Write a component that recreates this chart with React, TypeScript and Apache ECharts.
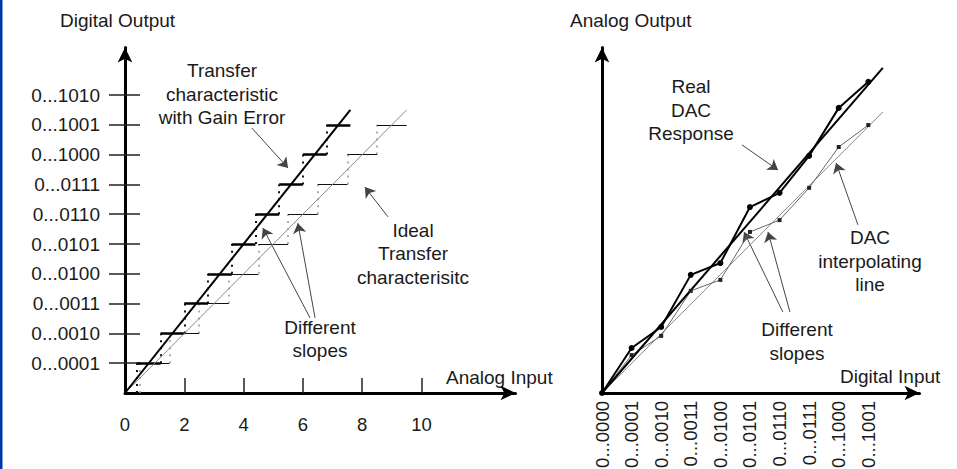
import React, { useEffect, useRef } from 'react';
import * as echarts from 'echarts';

const FONT = "'Liberation Sans', Arial, Helvetica, sans-serif";
const TXT = '#1a1a1a';

// ---------- Left chart (ADC) ----------
const leftCodeValues = [1, 2, 3, 4, 5, 6, 7, 8, 9, 10];
const leftCodeLabels = ['0...0001', '0...0010', '0...0011', '0...0100', '0...0101', '0...0110', '0...0111', '0...1000', '0...1001', '0...1010'];
const analogTickValues = [2, 4, 6, 8, 10];
const analogLabelValues = [0, 2, 4, 6, 8, 10];
// analog input values where the output code changes (code n holds between transitions n-1 and n)
const idealTransitions = [0.5, 1.5, 2.5, 3.5, 4.5, 5.5, 6.5, 7.5, 8.5, 9.5];
const gainTransitions = [0.4, 1.2, 2.0, 2.8, 3.6, 4.4, 5.2, 6.0, 6.8, 7.6];
const idealLine = [[0, 0], [9.5, 9.5]];
const gainLine = [[0, 0], [7.6, 9.5]];
const leftArrows = [
  [[4.28, 8.89], [5.5, 7.55]],
  [[8.87, 5.91], [8.09, 6.91]],
  [[6.24, 2.52], [4.65, 5.54]],
  [[6.41, 2.52], [5.83, 5.7]],
];

// ---------- Right chart (DAC) ----------
const digitalInputCodes = [0, 1, 2, 3, 4, 5, 6, 7, 8, 9];
const digitalInputLabels = ['0...0000', '0...0001', '0...0010', '0...0011', '0...0100', '0...0101', '0...0110', '0...0111', '0...1000', '0...1001'];
const realDacOutput = [0, 1.52, 2.23, 3.99, 4.39, 6.28, 6.76, 8.01, 9.63, 10.51];
const interpDacOutput = [0, 1.28, 1.93, 3.45, 3.82, 5.44, 5.84, 6.93, 8.31, 9.05];
const realLine = [[0, 0], [9.49, 10.98]];
const interpLine = [[0, 0], [9.49, 9.49]];
const rightArrows = [
  [[4.73, 8.38], [5.95, 7.53]],
  [[8.65, 5.68], [7.91, 7.77]],
  [[6.11, 2.74], [4.8, 5.44]],
  [[6.35, 2.74], [5.61, 5.44]],
];

function horizSteps(tr: number[]) {
  const out: any[] = [];
  for (let n = 1; n < tr.length; n++) out.push({ coords: [[tr[n - 1], n], [tr[n], n]] });
  return out;
}
function vertSteps(tr: number[]) {
  const out: any[] = [];
  for (let n = 0; n < tr.length - 1; n++) out.push({ coords: [[tr[n], n], [tr[n], n + 1]] });
  return out;
}

const axisArrowLine = {
  show: true,
  onZero: false,
  symbol: ['none', 'arrow'],
  symbolSize: [11, 15],
  lineStyle: { color: '#000', width: 3 },
};

export default function App() {
  const ref = useRef<HTMLDivElement>(null);
  useEffect(() => {
    if (!ref.current) return;
    const chart = echarts.init(ref.current, null, { renderer: 'svg' });
    const textStyle = (text: string, x: number, y: number) => ({
      type: 'text',
      x,
      y,
      style: {
        text,
        fill: TXT,
        fontSize: 19,
        fontFamily: FONT,
        align: 'center',
        verticalAlign: 'middle',
        lineHeight: 23.5,
      },
    });
    const arrowSeries = (data: number[][][], xi: number, yi: number) => ({
      type: 'lines',
      coordinateSystem: 'cartesian2d',
      xAxisIndex: xi,
      yAxisIndex: yi,
      symbol: ['none', 'arrow'],
      symbolSize: [7, 10],
      lineStyle: { color: '#444', width: 1, opacity: 1 },
      data: data.map((c) => ({ coords: c })),
      silent: true,
    });
    const segSeries = (data: any[], color: string, width: number, type: any = 'solid') => ({
      type: 'lines',
      coordinateSystem: 'cartesian2d',
      xAxisIndex: 0,
      yAxisIndex: 0,
      symbol: ['none', 'none'],
      lineStyle: { color, width, type, opacity: 1 },
      data,
      silent: true,
    });

    chart.setOption({
      animation: false,
      backgroundColor: '#fff',
      grid: [
        { left: 125, top: 47.5, width: 390.5, height: 345.5, containLabel: false, outerBoundsMode: 'none' },
        { left: 602, top: 47.5, width: 317.5, height: 345.5, containLabel: false, outerBoundsMode: 'none' },
      ],
      xAxis: [
        {
          type: 'value',
          gridIndex: 0,
          min: 0,
          max: 13.17,
          axisLine: axisArrowLine,
          axisTick: { show: true, inside: true, length: 15, customValues: analogTickValues, lineStyle: { color: '#222', width: 1.5 } },
          axisLabel: { show: true, customValues: analogLabelValues, margin: 22, fontSize: 18.5, fontFamily: FONT, color: TXT },
          splitLine: { show: false },
        },
        {
          type: 'value',
          gridIndex: 1,
          min: 0,
          max: 10.73,
          axisLine: axisArrowLine,
          axisTick: { show: false },
          axisLabel: {
            show: true,
            customValues: digitalInputCodes,
            rotate: 90,
            margin: 8,
            fontSize: 18.5,
            fontFamily: FONT,
            color: TXT,
            formatter: (v: number) => digitalInputLabels[Math.round(v)] ?? '',
          },
          splitLine: { show: false },
        },
      ],
      yAxis: [
        {
          type: 'value',
          gridIndex: 0,
          position: 'left',
          offset: 0,
          min: 0,
          max: 11.594,
          axisLine: axisArrowLine,
          axisTick: { show: true, inside: false, length: 16, customValues: leftCodeValues, lineStyle: { color: '#222', width: 1.5 } },
          axisLabel: {
            show: true,
            customValues: leftCodeValues,
            margin: 25,
            fontSize: 19,
            fontFamily: FONT,
            color: TXT,
            formatter: (v: number) => leftCodeLabels[Math.round(v) - 1] ?? '',
          },
          splitLine: { show: false },
        },
        {
          type: 'value',
          gridIndex: 0,
          position: 'left',
          offset: 0,
          min: 0,
          max: 11.594,
          axisLine: { show: false },
          axisTick: { show: true, inside: true, length: 15, customValues: leftCodeValues, lineStyle: { color: '#222', width: 1.5 } },
          axisLabel: { show: false },
          splitLine: { show: false },
        },
        {
          type: 'value',
          gridIndex: 1,
          min: 0,
          max: 11.67,
          axisLine: axisArrowLine,
          axisTick: { show: false },
          axisLabel: { show: false },
          splitLine: { show: false },
        },
      ],
      series: [
        // left: ideal
        {
          type: 'line',
          xAxisIndex: 0,
          yAxisIndex: 0,
          data: idealLine,
          showSymbol: false,
          lineStyle: { color: '#8a8a8a', width: 1 },
          silent: true,
        },
        segSeries(vertSteps(idealTransitions), '#9a9a9a', 1.6, [2, 5]),
        segSeries(horizSteps(idealTransitions), '#111', 1),
        // left: gain error
        segSeries(vertSteps(gainTransitions), '#111', 2, [2, 5]),
        {
          type: 'line',
          xAxisIndex: 0,
          yAxisIndex: 0,
          data: gainLine,
          showSymbol: false,
          lineStyle: { color: '#000', width: 2 },
          silent: true,
        },
        segSeries(horizSteps(gainTransitions), '#000', 2.5),
        arrowSeries(leftArrows, 0, 0),
        // right
        {
          type: 'line',
          xAxisIndex: 1,
          yAxisIndex: 2,
          data: interpLine,
          showSymbol: false,
          lineStyle: { color: '#8a8a8a', width: 1 },
          silent: true,
        },
        {
          type: 'line',
          xAxisIndex: 1,
          yAxisIndex: 2,
          data: digitalInputCodes.map((c, i) => [c, interpDacOutput[i]]),
          symbol: 'rect',
          symbolSize: 4,
          showSymbol: true,
          itemStyle: { color: '#222' },
          lineStyle: { color: '#666', width: 1 },
          silent: true,
        },
        {
          type: 'line',
          xAxisIndex: 1,
          yAxisIndex: 2,
          data: realLine,
          showSymbol: false,
          lineStyle: { color: '#000', width: 2 },
          silent: true,
        },
        {
          type: 'line',
          xAxisIndex: 1,
          yAxisIndex: 2,
          data: digitalInputCodes.map((c, i) => [c, realDacOutput[i]]),
          symbol: 'circle',
          symbolSize: 6,
          showSymbol: true,
          itemStyle: { color: '#000' },
          lineStyle: { color: '#000', width: 2 },
          silent: true,
        },
        arrowSeries(rightArrows, 1, 2),
      ],
      graphic: [
        { type: 'rect', shape: { x: 0, y: 0, width: 2.5, height: 469 }, style: { fill: '#0038a8' }, silent: true },
        { type: 'text', x: 60, y: 20, style: { text: 'Digital Output', fill: TXT, fontSize: 19, fontFamily: FONT, align: 'left', verticalAlign: 'middle' } },
        { type: 'text', x: 570, y: 20, style: { text: 'Analog Output', fill: TXT, fontSize: 19, fontFamily: FONT, align: 'left', verticalAlign: 'middle' } },
        { type: 'text', x: 446, y: 377, style: { text: 'Analog Input', fill: TXT, fontSize: 19, fontFamily: FONT, align: 'left', verticalAlign: 'middle' } },
        { type: 'text', x: 840, y: 376, style: { text: 'Digital Input', fill: TXT, fontSize: 19, fontFamily: FONT, align: 'left', verticalAlign: 'middle' } },
        textStyle('Transfer\ncharacteristic\nwith Gain Error', 222, 94),
        textStyle('Ideal\nTransfer\ncharacterisitc', 413, 253.5),
        textStyle('Different\nslopes', 320, 339),
        textStyle('Real\nDAC\nResponse', 691, 110),
        textStyle('DAC\ninterpolating\nline', 870, 261),
        textStyle('Different\nslopes', 797, 341.5),
      ],
    });
    return () => chart.dispose();
  }, []);
  return (
    <div
      ref={ref}
      style={{ position: 'fixed', left: 0, top: 0, width: 957, height: 469, background: '#fff' }}
    />
  );
}
